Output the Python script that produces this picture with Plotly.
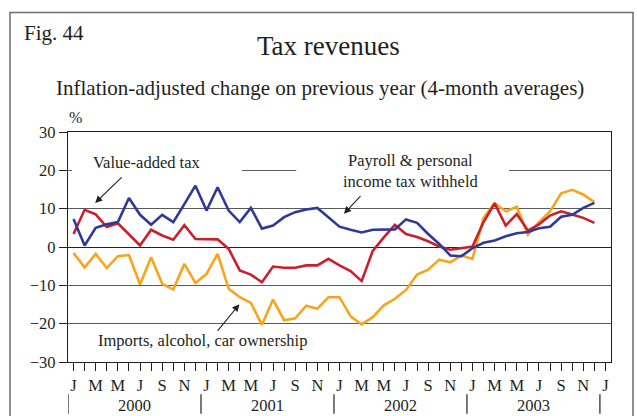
import plotly.graph_objects as go

# Monthly observations, Jan 2000 .. Dec 2003 (4-month averages, % change y/y, real terms)
months = list(range(48))

vat = [3.4, 9.7, 8.5, 5.2, 6.2, 3.4, 0.4, 4.5, 3.0, 1.9, 5.7, 2.1,
       2.0, 2.0, -0.5, -6.1, -7.2, -9.2, -5.1, -5.4, -5.4, -4.8, -4.8, -3.1,
       -4.8, -6.3, -8.9, -1.0, 2.5, 5.8, 3.4, 2.6, 1.5, 0.1, -0.7, -0.2,
       0.1, 6.5, 11.4, 5.6, 8.6, 4.3, 5.9, 8.2, 9.3, 8.5, 7.6, 6.3]

payroll = [7.3, 0.4, 5.0, 5.9, 6.5, 12.8, 8.4, 5.8, 8.4, 6.5, 11.2, 16.0,
           9.5, 15.6, 9.5, 6.5, 10.2, 4.8, 5.6, 7.8, 9.1, 9.8, 10.2, 7.8,
           5.3, 4.5, 3.8, 4.5, 4.6, 4.6, 7.2, 6.3, 3.4, 0.8, -2.2, -2.4,
           -0.3, 1.1, 1.7, 2.8, 3.6, 3.9, 4.9, 5.3, 7.9, 8.4, 10.2, 11.5]

imports = [-1.6, -5.3, -1.8, -5.5, -2.4, -2.1, -9.8, -2.7, -9.6, -11.1, -4.4, -9.4,
           -7.0, -1.8, -10.9, -13.1, -14.6, -20.3, -13.7, -19.1, -18.6, -15.3, -16.1, -13.1,
           -13.1, -18.1, -20.2, -18.3, -15.2, -13.5, -11.2, -7.2, -5.9, -3.3, -4.0, -2.2,
           -3.1, 7.6, 11.4, 9.3, 10.5, 3.2, 6.5, 9.3, 14.0, 14.9, 13.7, 11.7]

month_letters = ["J", "M", "M", "J", "S", "N"]
years = ["2000", "2001", "2002", "2003"]

# one tick per month, letters on every other month
tick_vals = list(range(49))
tick_text = [(month_letters[(m % 12) // 2] if m % 2 == 0 else "") for m in tick_vals]

FONT = "Liberation Serif"
TXT = "#231f20"

fig = go.Figure()
fig.add_trace(go.Scatter(x=months, y=imports, mode="lines", name="Imports, alcohol, car ownership",
                         line=dict(color="#F8A51B", width=2.6)))
fig.add_trace(go.Scatter(x=months, y=vat, mode="lines", name="Value-added tax",
                         line=dict(color="#CC1F2D", width=2.6)))
fig.add_trace(go.Scatter(x=months, y=payroll, mode="lines", name="Payroll & personal income tax withheld",
                         line=dict(color="#2E3A96", width=2.6)))

shapes = []
# gaps in the 20% gridline behind the series labels
for x0, x1 in [(-0.15, 15.2), (20.1, 39.3)]:
    shapes.append(dict(type="rect", xref="x", yref="y", x0=x0, x1=x1, y0=19.5, y1=20.5,
                       fillcolor="white", line=dict(width=0), layer="between"))
# year separators below the month letters
for i in range(len(years) + 1):
    xs = -0.5 + 12 * i
    shapes.append(dict(type="line", xref="x", yref="paper", x0=xs, x1=xs, y0=-0.14, y1=-0.225,
                       line=dict(color=TXT, width=1.2)))
# outer frame
shapes.append(dict(type="rect", xref="paper", yref="paper", x0=-0.1068, x1=1.0405, y0=-0.3, y1=1.52,
                   line=dict(color="#6d6d6d", width=1.5), fillcolor="rgba(0,0,0,0)"))

annotations = [
    dict(text="Fig. 44", xref="paper", yref="paper", x=-0.0847, y=1.429, xanchor="left", yanchor="middle",
         showarrow=False, font=dict(family=FONT, size=21, color=TXT)),
    dict(text="Tax revenues", xref="paper", yref="paper", x=0.479, y=1.372, xanchor="center", yanchor="middle",
         showarrow=False, font=dict(family=FONT, size=27, color=TXT)),
    dict(text="Inflation-adjusted change on previous year (4-month averages)", xref="paper", yref="paper",
         x=0.465, y=1.19, xanchor="center", yanchor="middle", showarrow=False,
         font=dict(family=FONT, size=21, color=TXT)),
    dict(text="%", xref="paper", yref="paper", x=0.013, y=1.064, xanchor="center", yanchor="middle",
         showarrow=False, font=dict(family=FONT, size=16, color=TXT)),
    # series labels
    dict(text="Value-added tax", xref="x", yref="y", x=6.6, y=22.0, showarrow=False,
         font=dict(family=FONT, size=16.5, color=TXT)),
    dict(text="Payroll & personal<br>income tax withheld", xref="x", yref="y", x=30.4, y=19.9, showarrow=False,
         font=dict(family=FONT, size=16.5, color=TXT)),
    dict(text="Imports, alcohol, car ownership", xref="x", yref="y", x=11.62, y=-24.3, showarrow=False,
         font=dict(family=FONT, size=16.5, color=TXT)),
    # pointer arrows
    dict(text="", xref="x", yref="y", x=1.95, y=11.5, ax=28, ay=-27, showarrow=True,
         arrowhead=2, arrowsize=1.3, arrowwidth=1.1, arrowcolor=TXT),
    dict(text="", xref="x", yref="y", x=24.4, y=8.7, ax=18, ay=-19, showarrow=True,
         arrowhead=2, arrowsize=1.3, arrowwidth=1.1, arrowcolor=TXT),
    dict(text="", xref="x", yref="y", x=14.96, y=-14.95, ax=-23, ay=28, showarrow=True,
         arrowhead=2, arrowsize=1.3, arrowwidth=1.1, arrowcolor=TXT),
]
# year labels centred under each year
for i, yr in enumerate(years):
    annotations.append(dict(text=yr, xref="x", yref="paper", x=5.5 + 12 * i, y=-0.188,
                            xanchor="center", yanchor="middle", showarrow=False,
                            font=dict(family=FONT, size=16.5, color=TXT)))

fig.update_layout(
    width=637, height=416,
    margin=dict(l=68, r=26, t=132, b=54),
    paper_bgcolor="white", plot_bgcolor="white",
    showlegend=False,
    font=dict(family=FONT, size=16.5, color=TXT),
    shapes=shapes,
    annotations=annotations,
    xaxis=dict(range=[-0.5, 48.5], tickmode="array", tickvals=tick_vals, ticktext=tick_text,
               ticks="outside", ticklen=8, tickwidth=1, tickcolor=TXT,
               showgrid=False, zeroline=False, showline=True, mirror=True,
               linecolor=TXT, linewidth=1.2, tickfont=dict(family=FONT, size=16.5, color=TXT)),
    yaxis=dict(range=[-30, 30], dtick=10, tick0=0, ticks="outside", ticklen=8, tickwidth=1,
               tickcolor=TXT, showgrid=True, gridcolor="#5a5a5a", gridwidth=1.2,
               zeroline=True, zerolinecolor="#222222", zerolinewidth=1.3,
               showline=True, mirror=True, linecolor=TXT, linewidth=1.2,
               tickfont=dict(family=FONT, size=16.5, color=TXT)),
)

fig.write_html("out.html")
